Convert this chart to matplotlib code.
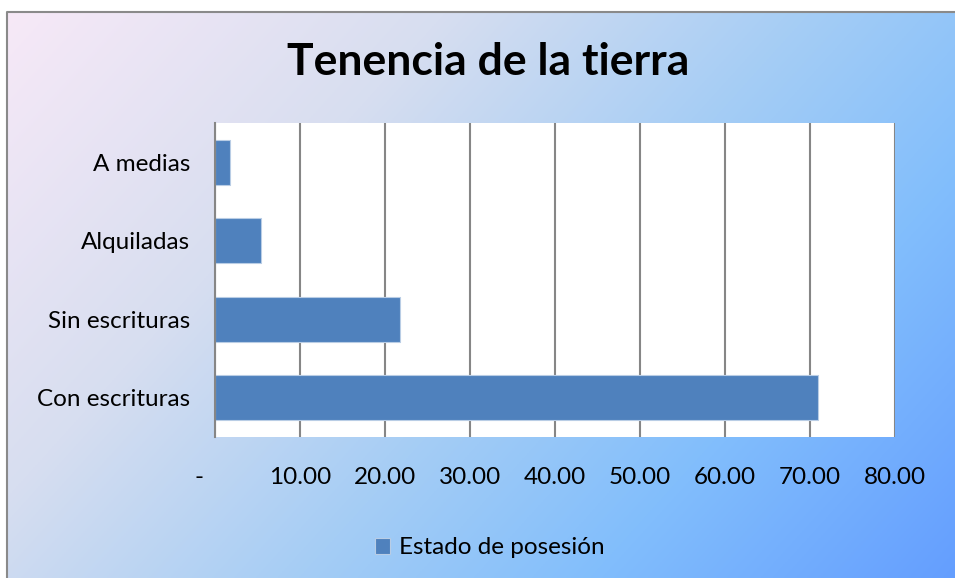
import numpy as np
import matplotlib
matplotlib.use("Agg")
import matplotlib.pyplot as plt

categories = ["Con escrituras", "Sin escrituras", "Alquiladas", "A medias"]
values = [70.9, 21.8, 5.45, 1.76]
xticks = [0, 10, 20, 30, 40, 50, 60, 70, 80]
xticklabels = ["-     ", "10.00", "20.00", "30.00", "40.00", "50.00", "60.00", "70.00", "80.00"]
title = "Tenencia de la tierra"
series_name = "Estado de posesión"

plt.rcParams['font.family'] = ['Lato', 'DejaVu Sans']

W, H = 955, 578
fig = plt.figure(figsize=(W / 100, H / 100), dpi=100)
fig.patch.set_facecolor("white")

# background gradient
bg = fig.add_axes([0, 0, 1, 1], zorder=-10)
bg.set_axis_off()
nx, ny = 400, 240
xx, yy = np.meshgrid(np.linspace(0, 1, nx), np.linspace(0, 1, ny))
t = 0.65 * xx + 0.35 * yy
stops = [0.0, 0.3, 0.55, 0.75, 1.0]
cols = np.array([[247, 233, 247], [215, 222, 240], [165, 205, 245], [130, 190, 252], [100, 158, 255]]) / 255.0
img = np.dstack([np.interp(t, stops, cols[:, c]) for c in range(3)])
x0 = 7 / W
y1 = 1 - 12 / H
bg.imshow(img, extent=[x0, 1, 0, y1], aspect="auto", origin="upper")
bg.set_xlim(0, 1)
bg.set_ylim(0, 1)
bg.plot([x0, x0, 1], [0, y1, y1], color="#8a8a8a", lw=1.5)

ax = fig.add_axes([215 / W, 1 - 436.7 / H, 680 / W, 313.7 / H])
ax.set_facecolor("white")
ypos = np.arange(len(categories))
bars = ax.barh(ypos, values, height=0.575, color="#4f81bd", edgecolor="#b9cde5", linewidth=0.8,
               label=series_name, zorder=3)
ax.set_xlim(0, 80)
ax.set_ylim(-0.5, len(categories) - 0.5)
ax.set_xticks(xticks)
ax.set_xticklabels(xticklabels, fontsize=17.5)
ax.set_yticks(ypos)
ax.set_yticklabels(categories, fontsize=17.5)
ax.tick_params(axis="x", length=0, pad=22)
ax.tick_params(axis="y", length=0, pad=18)
ax.grid(axis="x", color="#868686", lw=1.5, zorder=1)
for s in ["top", "right", "bottom"]:
    ax.spines[s].set_visible(False)
ax.spines["left"].set_color("#868686")
ax.spines["left"].set_linewidth(1.5)
ax.spines["left"].set_zorder(4)

fig.text(488 / W, 1 - 62 / H, title, ha="center", va="center", fontsize=32, fontweight="bold")

leg = fig.legend(handles=[bars], labels=[series_name], loc="center", bbox_to_anchor=(490 / W, 1 - 548 / H),
                 frameon=False, fontsize=17.5, handlelength=0.6, handleheight=0.6, handletextpad=0.4)

fig.savefig("out.png", dpi=100)
